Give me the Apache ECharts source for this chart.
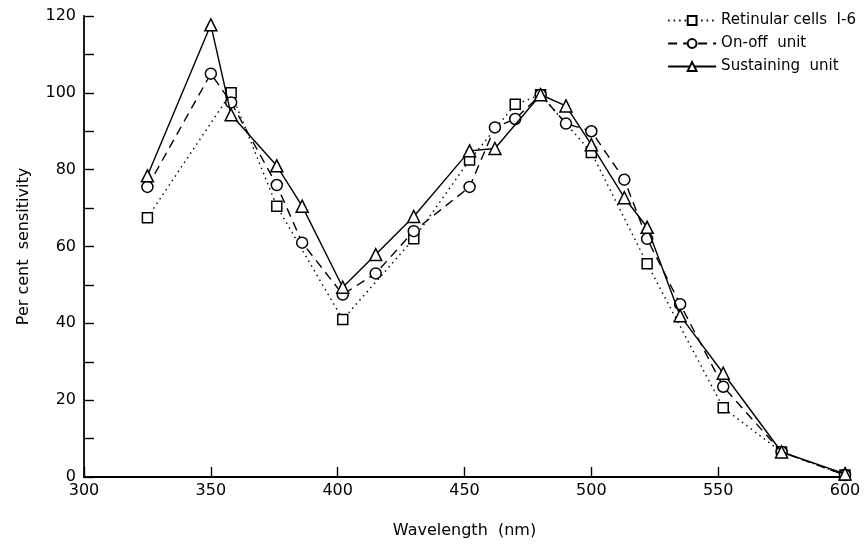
<!DOCTYPE html>
<html><head><meta charset="utf-8">
<script src="https://cdn.jsdelivr.net/npm/echarts@6/dist/echarts.min.js"></script>
<style>html,body{margin:0;padding:0;background:#fff}#c{width:865px;height:544px}</style>
</head><body><div id="c"></div>
<script>
const retinularWl  = [325, 358, 376, 402, 430, 452, 470, 480, 500, 522, 552, 575, 600];
const retinularVal = [67.5, 100, 70.5, 41, 62, 82.5, 97, 99.5, 84.5, 55.5, 18, 6.5, 0.5];
const onoffWl  = [325, 350, 358, 376, 386, 402, 415, 430, 452, 462, 470, 480, 490, 500, 513, 522, 535, 552, 575, 600];
const onoffVal = [75.5, 105, 97.5, 76, 61, 47.5, 53, 64, 75.5, 91, 93.2, 99.5, 92, 90, 77.4, 62, 45, 23.5, 6.5, 0.5];
const sustWl  = [325, 350, 358, 376, 386, 402, 415, 430, 452, 462, 480, 490, 500, 513, 522, 535, 552, 575, 600];
const sustVal = [78.4, 117.7, 94.3, 81, 70.5, 49.4, 57.9, 67.8, 84.9, 85.5, 99.5, 96.6, 86.5, 72.7, 65, 42, 27, 6.5, 0.8];
const seriesNames = ['Retinular cells  I-6', 'On-off  unit', 'Sustaining  unit'];
const xTicks = {min: 300, max: 600, interval: 50};
const yTicks = {min: 0, max: 120, interval: 20};

const pair = (xs, ys) => xs.map((x, i) => [x, ys[i]]);
const FONT = 'DejaVu Sans';
const sym = {color: '#fff', borderColor: '#000', borderWidth: 1.5};

const chart = echarts.init(document.getElementById('c'), null, {renderer: 'canvas'});
chart.setOption({
  backgroundColor: '#fff',
  animation: false,
  grid: {left: 84, right: 20, top: 16, bottom: 66},
  legend: {
    orient: 'vertical', right: 4, top: 8, itemGap: 8,
    itemWidth: 48, itemHeight: 11,
    textStyle: {fontFamily: FONT, fontSize: 15, color: '#000'},
    data: seriesNames
  },
  xAxis: {
    type: 'value', min: xTicks.min, max: xTicks.max, interval: xTicks.interval,
    name: 'Wavelength  (nm)', nameLocation: 'middle', nameGap: 46,
    nameTextStyle: {fontFamily: FONT, fontSize: 16, color: '#000'},
    axisLine: {lineStyle: {color: '#000', width: 1.8}},
    axisTick: {inside: true, length: 10, lineStyle: {color: '#000', width: 1.4}},
    axisLabel: {fontFamily: FONT, fontSize: 16, color: '#000', margin: 6},
    splitLine: {show: false}
  },
  yAxis: {
    type: 'value', min: yTicks.min, max: yTicks.max, interval: yTicks.interval,
    name: 'Per cent  sensitivity', nameLocation: 'middle', nameGap: 52,
    nameTextStyle: {fontFamily: FONT, fontSize: 16, color: '#000'},
    axisLine: {show: true, lineStyle: {color: '#000', width: 1.8}},
    axisTick: {show: true, inside: true, length: 10, lineStyle: {color: '#000', width: 1.4}},
    minorTick: {show: true, splitNumber: 2, length: 10, lineStyle: {color: '#000', width: 1.4}},
    axisLabel: {fontFamily: FONT, fontSize: 16, color: '#000', margin: 8},
    splitLine: {show: false}
  },
  series: [
    {name: seriesNames[0], type: 'line', data: pair(retinularWl, retinularVal),
     symbol: 'rect', symbolSize: 10, itemStyle: sym,
     lineStyle: {color: '#000', width: 1.4, type: [1.5, 4]}, z: 3},
    {name: seriesNames[1], type: 'line', data: pair(onoffWl, onoffVal),
     symbol: 'circle', symbolSize: 11, itemStyle: sym,
     lineStyle: {color: '#000', width: 1.4, type: [9, 6]}, z: 4},
    {name: seriesNames[2], type: 'line', data: pair(sustWl, sustVal),
     symbol: 'triangle', symbolSize: 12, itemStyle: sym,
     lineStyle: {color: '#000', width: 1.4, type: 'solid'}, z: 5}
  ]
});
</script></body></html>
